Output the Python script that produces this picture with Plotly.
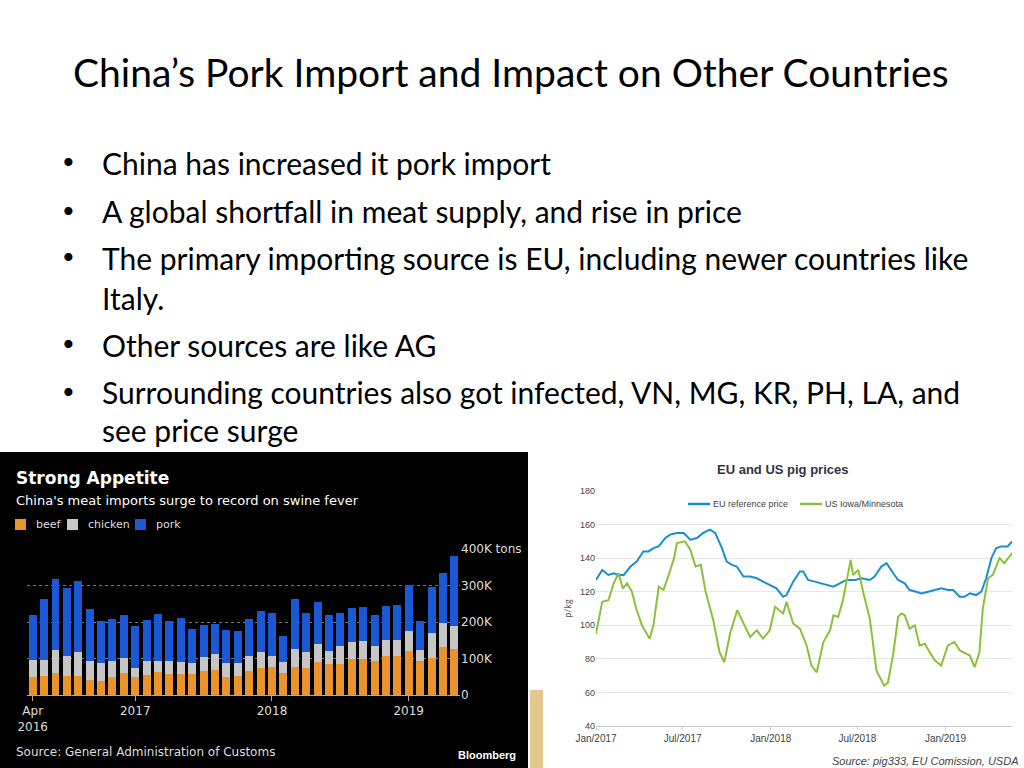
import pandas as pd
import plotly.graph_objects as go

# Bar chart data (thousand tons), Apr 2016 - May 2019
months = pd.date_range('2016-04-01', '2019-05-01', freq='MS').strftime('%Y-%m').tolist()
beef = [48, 53, 60, 53, 53, 40, 38, 48, 60, 48, 56, 62, 57, 57, 57, 65, 68, 48, 53, 67,
        75, 78, 60, 78, 75, 90, 85, 85, 100, 100, 94, 107, 107, 120, 94, 102, 131, 125]
chicken_top = [97, 97, 122, 108, 118, 94, 88, 94, 102, 74, 94, 94, 94, 91, 88, 105, 111, 88, 88, 108,
               118, 108, 91, 125, 117, 141, 120, 133, 145, 147, 134, 152, 150, 174, 122, 169, 197, 190]
total = [218, 264, 319, 294, 312, 235, 203, 208, 218, 188, 206, 221, 203, 212, 180, 193, 195, 177, 174, 209,
         231, 226, 163, 262, 226, 255, 219, 224, 237, 242, 219, 244, 247, 301, 203, 295, 334, 380]
chicken = [c - b for c, b in zip(chicken_top, beef)]
pork = [t - c for t, c in zip(total, chicken_top)]

# Line chart data: days since 2017-01-01, p/kg
eu_days = [0, 13, 26, 37, 47, 58, 72, 85, 99, 110, 120, 131, 145, 155, 169, 183, 197, 211, 224, 238, 249, 263,
           273, 284, 294, 308, 322, 336, 349, 363, 377, 391, 398, 412, 426, 433, 443, 457, 471, 485, 496, 509,
           523, 541, 555, 572, 582, 596, 607, 621, 631, 645, 655, 669, 680, 694, 708, 721, 735, 746, 760, 770,
           781, 794, 805, 815, 826, 836, 847, 860, 869]
eu_price = [127, 133, 130, 131, 130, 130, 135, 138, 144, 144, 146, 147, 152, 154, 155, 155, 151, 152, 155, 157, 155, 146,
            138, 136, 135, 129, 129, 128, 126, 124, 122, 117, 118, 126, 132, 132, 127, 126, 125, 124, 123, 125,
            127, 127, 128, 127, 129, 135, 137, 131, 127, 125, 121, 120, 119, 120, 121, 122, 121, 121, 117, 117,
            119, 118, 120, 128, 140, 146, 147, 147, 150]
us_days = [0, 13, 26, 37, 47, 56, 65, 75, 84, 96, 112, 120, 131, 141, 152, 163, 169, 186, 197, 208, 219, 229,
           245, 258, 268, 280, 295, 308, 322, 336, 349, 363, 374, 391, 398, 412, 426, 440, 450, 461, 475, 489,
           496, 506, 516, 532, 537, 548, 558, 572, 586, 602, 610, 621, 631, 638, 645, 655, 666, 676, 687, 697,
           708, 721, 730, 735, 749, 760, 774, 781, 791, 801, 808, 819, 829, 843, 853, 869]
us_price = [95, 114, 115, 125, 131, 122, 125, 120, 110, 100, 92, 100, 123, 121, 130, 140, 149, 150, 145, 135, 136, 120,
            103, 84, 78, 95, 109, 101, 93, 97, 92, 97, 111, 107, 114, 101, 98, 88, 76, 72, 90, 97,
            106, 105, 115, 139, 130, 133, 120, 104, 73, 64, 66, 83, 105, 107, 106, 98, 100, 88, 89, 84,
            79, 76, 84, 88, 90, 85, 83, 82, 75, 84, 110, 128, 130, 140, 137, 143]

start = pd.Timestamp('2017-01-01')
eu_dates = [start + pd.Timedelta(days=d) for d in eu_days]
us_dates = [start + pd.Timedelta(days=d) for d in us_days]

def fy(px):
    return 1 - px / 768

fig = go.Figure()

# bar chart
for name, vals, col in [('beef', beef, '#e8932b'), ('chicken', chicken, '#c6c6c6'), ('pork', pork, '#1b58d4')]:
    fig.add_trace(go.Bar(x=months, y=[v * 1000 for v in vals], name=name, marker_color=col,
                         marker_line_width=0, xaxis='x', yaxis='y', showlegend=False))

# line chart
fig.add_trace(go.Scatter(x=eu_dates, y=eu_price, mode='lines', line=dict(color='#1a8fd0', width=2),
                         xaxis='x2', yaxis='y2', showlegend=False))
fig.add_trace(go.Scatter(x=us_dates, y=us_price, mode='lines', line=dict(color='#8dc03a', width=2),
                         xaxis='x2', yaxis='y2', showlegend=False))

fig.update_layout(
    width=1024, height=768, margin=dict(l=0, r=0, t=0, b=0, autoexpand=False),
    paper_bgcolor='white', plot_bgcolor='rgba(0,0,0,0)', barmode='stack', bargap=0.3,
    font=dict(family='Lato'),
    xaxis=dict(domain=[27 / 1024, 460 / 1024], anchor='y', type='category', automargin=False,
               tickvals=['2016-04', '2017-01', '2018-01', '2019-01'],
               ticktext=['Apr<br>2016', '2017', '2018', '2019'],
               tickfont=dict(color='#dddddd', size=12, family='DejaVu Sans'),
               showgrid=False, ticks='outside', tickcolor='#aaaaaa', showline=True,
               linecolor='#aaaaaa'),
    yaxis=dict(domain=[fy(695), fy(549)], anchor='x', side='right', range=[0, 400000], automargin=False,
               tickvals=[0, 100000, 200000, 300000, 400000],
               ticktext=['0', '100K', '200K', '300K', '400K tons'],
               tickfont=dict(color='#dddddd', size=12, family='DejaVu Sans'),
               gridcolor='#777777', griddash='dot', zeroline=False),
    xaxis2=dict(domain=[596 / 1024, 1012 / 1024], anchor='y2', range=['2017-01-01', '2019-05-20'],
                automargin=False,
                tickvals=['2017-01-01', '2017-07-01', '2018-01-01', '2018-07-01', '2019-01-01'],
                ticktext=['Jan/2017', 'Jul/2017', 'Jan/2018', 'Jul/2018', 'Jan/2019'],
                tickfont=dict(color='#444444', size=10, family='Liberation Sans'),
                showgrid=False, ticks='outside', ticklen=3, tickcolor='#cccccc', showline=True,
                linecolor='#cccccc'),
    yaxis2=dict(domain=[fy(726), fy(491)], anchor='x2', range=[40, 180], dtick=20, automargin=False,
                tickfont=dict(color='#444444', size=9, family='Liberation Sans'),
                gridcolor='#e6e6e6', zeroline=False,
                title=dict(text='p/kg', font=dict(size=9, color='#555555'), standoff=6)),
)

shapes = [
    dict(type='rect', xref='paper', yref='paper', x0=0, x1=528 / 1024, y0=0, y1=fy(452),
         fillcolor='black', line_width=0, layer='below'),
    dict(type='rect', xref='paper', yref='paper', x0=530 / 1024, x1=543 / 1024, y0=0, y1=fy(690),
         fillcolor='#e4c690', line_width=0, layer='below'),
]
legend_items = [('beef', '#e8932b', 15), ('chicken', '#c6c6c6', 67), ('pork', '#1b58d4', 135)]
for name, col, x in legend_items:
    shapes.append(dict(type='rect', xref='paper', yref='paper', x0=x / 1024, x1=(x + 11) / 1024,
                       y0=fy(530), y1=fy(519), fillcolor=col, line_width=0))
for col, x in [('#1a8fd0', 688), ('#8dc03a', 800)]:
    shapes.append(dict(type='line', xref='paper', yref='paper', x0=x / 1024, x1=(x + 22) / 1024,
                       y0=fy(504), y1=fy(504), line=dict(color=col, width=2.5)))
fig.update_layout(shapes=shapes)

def txt(x, y, s, size, color='black', family='Lato', xanchor='left'):
    fig.add_annotation(xref='paper', yref='paper', x=x / 1024, y=fy(y), text=s, showarrow=False,
                       xanchor=xanchor, yanchor='middle', align='left',
                       font=dict(size=size, color=color, family=family))

txt(511, 72, 'China’s Pork Import and Impact on Other Countries', 39, xanchor='center')
bullets = [
    (163, 'China has increased it pork import'),
    (211, 'A global shortfall in meat supply, and rise in price'),
    (258, 'The primary importing source is EU, including newer countries like'),
    (298, 'Italy.'),
    (345, 'Other sources are like AG'),
    (392, 'Surrounding countries also got infected, VN, MG, KR, PH, LA, and'),
    (430, 'see price surge'),
]
for y, s in bullets:
    txt(100, y, s, 30)
for y in [163, 211, 258, 345, 392]:
    txt(60, y - 2, '•', 22)

txt(14, 478, '<b>Strong Appetite</b>', 17, 'white', 'DejaVu Sans')
txt(14, 500, "China's meat imports surge to record on swine fever", 13, 'white', 'DejaVu Sans')
for name, col, x in legend_items:
    txt(x + 19, 524, name, 11, '#dddddd', 'DejaVu Sans')
txt(14, 752, 'Source: General Administration of Customs', 12, '#dddddd', 'DejaVu Sans')
txt(518, 755, '<b>Bloomberg</b>', 11, 'white', 'Liberation Sans', xanchor='right')

txt(782, 469, '<b>EU and US pig prices</b>', 13, '#333344', 'Liberation Sans', xanchor='center')
txt(711, 504, 'EU reference price', 9, '#444444', 'Liberation Sans')
txt(823, 504, 'US Iowa/Minnesota', 9, '#444444', 'Liberation Sans')
txt(1020, 761, '<i>Source: pig333, EU Comission, USDA</i>', 11, '#444444', 'Liberation Sans', xanchor='right')

fig.write_html('out.html', config={'displayModeBar': False},
               post_script="document.body.style.margin='0';")
